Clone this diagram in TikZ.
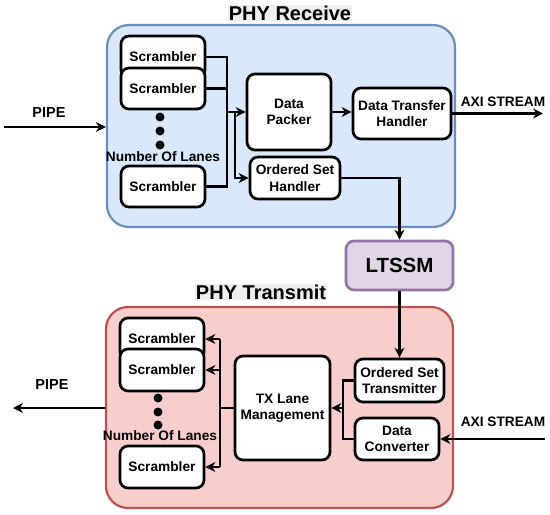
\documentclass[tikz,border=0pt]{standalone}
\usepackage{fontspec}
\setmainfont{Liberation Sans}
\usetikzlibrary{arrows.meta}
\definecolor{rxfill}{HTML}{DAE8FC}
\definecolor{rxline}{HTML}{6C8EBF}
\definecolor{txfill}{HTML}{F8CECC}
\definecolor{txline}{HTML}{B85450}
\definecolor{ltfill}{HTML}{E1D5E7}
\definecolor{ltline}{HTML}{9673A6}
\definecolor{titlebg}{HTML}{EEEEEE}
\begin{document}
\begin{tikzpicture}[x=1pt,y=-1pt,
  blk/.style={draw=black, line width=2.7pt, rounded corners=8pt, fill=white, align=center,
    font=\fontsize{13.7}{16.5}\selectfont\bfseries, inner sep=0pt},
  cont/.style={line width=2.2pt, rounded corners=22pt, inner sep=0pt},
  lbl/.style={font=\fontsize{13.7}{16}\selectfont\bfseries, inner sep=0pt},
  ttl/.style={font=\fontsize{20}{24}\selectfont\bfseries, inner sep=1pt, fill=titlebg},
  wire/.style={line width=2.8pt},
  arr/.style={line width=2.8pt, -{Stealth[length=10pt,width=10pt]}},
  dot/.style={circle, fill=black, inner sep=0pt, minimum size=9pt}
]
\useasboundingbox (0,0) rectangle (550,515);
% containers
\node[cont, draw=rxline, fill=rxfill, minimum width=348pt, minimum height=202pt] (RX) at (281,126) {};
\node[cont, draw=txline, fill=txfill, minimum width=347pt, minimum height=201pt] (TX) at (279.5,407.5) {};
\node[ttl] (rxt) at (290,13) {PHY Receive};
\node[ttl] (txt) at (261,292) {PHY Transmit};
% receive
\node[blk, minimum width=84pt, minimum height=42pt] (rS1) at (163,57) {Scrambler};
\node[blk, minimum width=84pt, minimum height=41pt] (rS2) at (163,88.5) {Scrambler};
\node[blk, minimum width=84pt, minimum height=41pt] (rS3) at (163,186.5) {Scrambler};
\node[dot] (rd1) at (160,117) {};
\node[dot] (rd2) at (160,131) {};
\node[dot] (rd3) at (160,145) {};
\node[lbl] (rlanes) at (163,157) {Number Of Lanes};
\node[blk, minimum width=84pt, minimum height=76pt] (DP) at (289,112) {Data\\Packer};
\node[blk, minimum width=98pt, minimum height=51pt] (DTH) at (402,113.5) {Data Transfer\\Handler};
\node[blk, minimum width=90pt, minimum height=42pt] (OSH) at (295,178) {Ordered Set\\Handler};
\node[blk, draw=ltline, fill=ltfill, minimum width=107pt, minimum height=49pt,
  font=\fontsize{20.5}{24}\selectfont\bfseries] (LT) at (399.5,265.5) {LTSSM};
% transmit
\node[blk, minimum width=84pt, minimum height=42pt] (tS1) at (162,339) {Scrambler};
\node[blk, minimum width=84pt, minimum height=42pt] (tS2) at (162,370) {Scrambler};
\node[blk, minimum width=84pt, minimum height=42pt] (tS3) at (162,467) {Scrambler};
\node[dot] (td1) at (158,398) {};
\node[dot] (td2) at (158,412) {};
\node[dot] (td3) at (158,425) {};
\node[lbl] (tlanes) at (160,436) {Number Of Lanes};
\node[blk, minimum width=95pt, minimum height=104pt] (TXLM) at (282.5,408) {TX Lane\\Management};
\node[blk, minimum width=89pt, minimum height=43pt] (OST) at (399.5,380.5) {Ordered Set\\Transmitter};
\node[blk, minimum width=84pt, minimum height=42pt] (DC) at (397,439) {Data\\Converter};
% outside labels
\node[lbl, font=\fontsize{14.5}{17}\selectfont\bfseries] (pipe1) at (49,113) {PIPE};
\node[lbl] (axi1) at (503,102) {AXI STREAM};
\node[lbl, font=\fontsize{14.5}{17}\selectfont\bfseries] (pipe2) at (52,385) {PIPE};
\node[lbl] (axi2) at (503,422) {AXI STREAM};
% coordinates
\coordinate (rb) at (227,0);
\coordinate (rb2) at (235,0);
\coordinate (axo) at (543,0);
\coordinate (pin) at (4,127);
\coordinate (pout) at (13,408);
\coordinate (tb) at (220,0);
\coordinate (tm) at (343,0);
\coordinate (axi) at (545,439);
% receive wires
\draw[wire] (rS1.east) -| (rb |- rS3.east) -- (rS3.east);
\draw[wire] (rS2.east) -- (rb |- rS2.east);
\draw[arr] (rb |- DP.west) -- (DP.west);
\draw[arr] (rb2 |- DP.west) |- (OSH.west);
\draw[arr] (DP.east) -- (DP.east -| DTH.west);
\draw[arr] (DTH.east) -- (axo |- DTH.east);
\draw[arr] (OSH.east) -| (LT.north);
\draw[arr] (pin) -- (pin -| RX.west);
% transmit wires
\draw[arr] (LT.south) -- (OST.north);
\draw[arr] (pout -| TX.west) -- (pout);
\draw[wire] (TXLM.west) -- (tb |- TXLM.west);
\draw[wire] (tb |- tS1.east) -- (tb |- tS3.east);
\draw[arr] (tb |- tS1.east) -- (tS1.east);
\draw[arr] (tb |- tS2.east) -- (tS2.east);
\draw[arr] (tb |- tS3.east) -- (tS3.east);
\draw[wire] (OST.west) -| (tm |- DC.west) -- (DC.west);
\draw[arr] (tm |- TXLM.east) -- (TXLM.east);
\draw[arr] (axi) -- (DC.east);
\end{tikzpicture}
\end{document}
